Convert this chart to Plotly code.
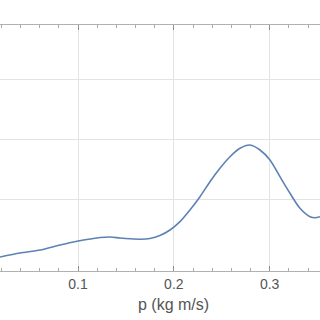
import plotly.graph_objects as go

# momentum p (kg m/s)
p_vals = [0.0186, 0.0395, 0.0604, 0.0812, 0.1000, 0.1125, 0.1230, 0.1334, 0.1438,
          0.1543, 0.1647, 0.1751, 0.1855, 0.1960, 0.2064, 0.2168, 0.2273, 0.2377,
          0.2481, 0.2586, 0.2690, 0.2794, 0.2899, 0.3003, 0.3107, 0.3212, 0.3316,
          0.3421, 0.3473, 0.3525]
# distribution (arbitrary units)
dens_vals = [1.033, 1.100, 1.150, 1.233, 1.300, 1.333, 1.358, 1.367, 1.350,
             1.337, 1.330, 1.342, 1.392, 1.483, 1.622, 1.817, 2.038, 2.288,
             2.512, 2.705, 2.845, 2.900, 2.817, 2.650, 2.372, 2.095, 1.845,
             1.705, 1.688, 1.705]

x_ticks = [0.1, 0.2, 0.3]
x_tick_text = ["0.1", "0.2", "0.3"]
y_grid = [2, 3, 4]

fig = go.Figure()
fig.add_trace(go.Scatter(x=p_vals, y=dens_vals, mode="lines",
                         line=dict(color="#5E81B5", width=1.6, shape="spline", smoothing=0.8),
                         hoverinfo="skip", showlegend=False))

fig.update_layout(
    width=320, height=320,
    margin=dict(l=0, r=0, t=25, b=49),
    paper_bgcolor="white", plot_bgcolor="white",
    font=dict(family="Liberation Sans, Arial, sans-serif", color="#555555", size=14),
    xaxis=dict(range=[0.01862, 0.3525], tickvals=x_ticks, ticktext=x_tick_text,
               showgrid=True, gridcolor="#e3e3e3", gridwidth=1,
               showline=True, linecolor="#b0b0b0", linewidth=1.2, mirror="ticks",
               ticks="inside", ticklen=5, tickcolor="#909090", tickwidth=1,
               minor=dict(dtick=0.02, tick0=0, ticks="inside", ticklen=3,
                          tickcolor="#a8a8a8", showgrid=False),
               zeroline=False, tickfont=dict(size=14, color="#555555")),
    yaxis=dict(range=[0.8, 4.9], tickvals=y_grid, showticklabels=False,
               showgrid=True, gridcolor="#e3e3e3", gridwidth=1,
               showline=False, zeroline=False, ticks=""),
    annotations=[dict(text="p (kg m/s)", x=0.2, xref="x", y=-0.135, yref="paper",
                      xanchor="center", yanchor="middle", showarrow=False,
                      font=dict(size=16, color="#555555"))],
)

fig.write_html("out.html", config={"displayModeBar": False},
               post_script="document.body.style.margin='0';document.body.style.overflow='hidden';")
